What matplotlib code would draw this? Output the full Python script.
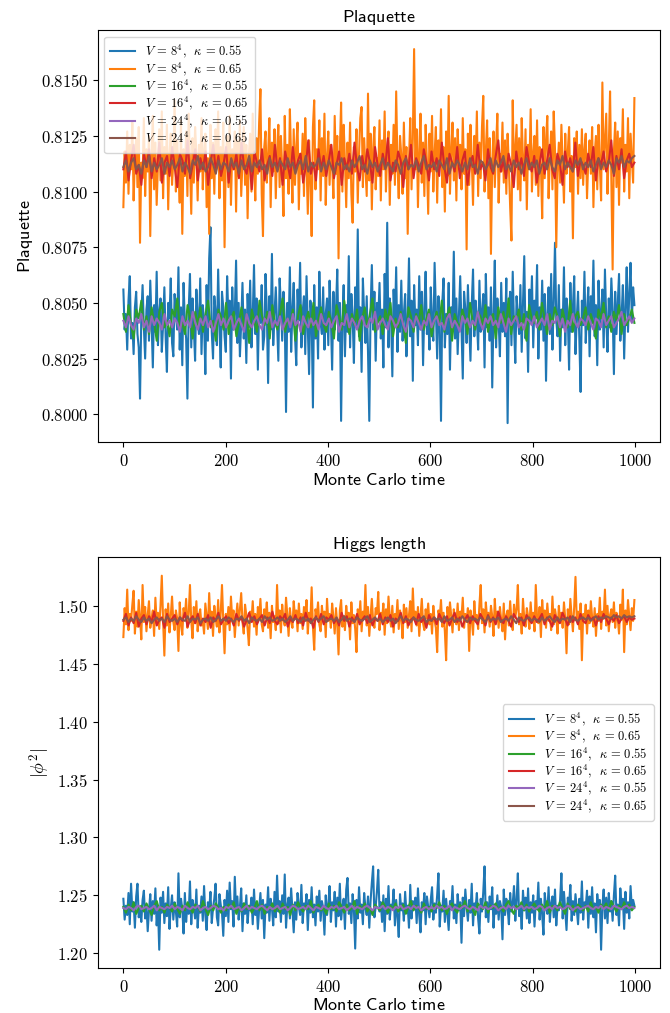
import numpy as np
import matplotlib
matplotlib.use('Agg')
import matplotlib.pyplot as plt
from matplotlib import ticker

plt.rcParams['mathtext.fontset'] = 'cm'
plt.rcParams['font.size'] = 12

# --- data ---
# plaquette: offsets from 0.8000 in units of 1e-4
plaq_base, plaq_unit = 0.8, 1e-4
plaq_v8_k055 = [
    56, 38, 45, 29, 51, 62, 34, 41, 27, 48, 55, 36, 30, 7, 44, 58, 39, 25, 47, 53,
    33, 60, 42, 21, 49, 37, 64, 31, 46, 52, 28, 40, 57, 35, 19, 50, 43, 61, 32, 26,
    54, 45, 38, 66, 29, 48, 22, 59, 41, 34, 7, 47, 63, 30, 52, 39, 24, 56, 44, 36,
    61, 27, 49, 42, 18, 58, 33, 70, 84, 37, 25, 53, 46, 31, 65, 40, 21, 55, 48, 35,
    28, 62, 43, 51, 16, 57, 38, 45, 69, 32, 50, 26, 41, 59, 34, 47, 23, 54, 39, 60,
    30, 44, 67, 36, 52, 20, 48, 41, 58, 29, 35, 63, 46, 14, 53, 38, 72, 31, 45, 57,
    40, 24, 61, 49, 33, 55, 43, 1, 50, 37, 66, 28, 47, 59, 35, 22, 56, 42, 68, 30,
    46, 53, 27, 62, 39, 18, 51, 44, 3, 58, 34, 48, 25, 64, 41, 36, 57, 29, 45, 52,
    31, 60, 43, 20, 55, 38, 47, 65, 33, 50, -3, 42, 58, 26, 49, 37, 71, 30, 54, 44,
    23, 57, 40, 83, 35, 48, 19, 61, 45, 32, 53, 28, -3, 46, 67, 38, 55, 24, 50, 42,
    59, 34, 47, 21, 63, 39, 86, 30, 52, 44, 17, 56, 41, 66, 28, 49, 37, 60, 33, 45,
    54, 26, 43, 70, 35, 51, 15, 58, 40, 47, 31, 62, 38, 55, 22, 48, 64, 36, 44, 29,
    57, 42, 33, 68, 46, 25, 53, 39, -3, 50, 61, 30, 45, 36, 59, 20, 48, 41, 73, 34,
    52, 27, 44, 62, 38, 16, 55, 47, 32, 58, 40, 24, 49, 65, 35, 51, 43, 29, 60, 37,
    46, 54, 21, 63, 39, 48, 33, 57, 12, 45, 69, 30, 52, 42, 26, 59, 37, 50, 35, 61,
    -4, 47, 55, 31, 64, 40, 23, 53, 44, 36, 58, 28, 49, 71, 34, 46, 19, 56, 41, 62,
    30, 51, 43, 67, 25, 48, 38, 60, 33, 54, 15, 45, 57, 36, 63, 29, 50, 77, 42, 35,
    58, 24, 47, 39, 66, 31, 52, 44, 20, 59, 37, 48, 62, 27, 43, 55, 34, 10, 51, 40,
    64, 32, 46, 57, 26, 53, 41, 69, 35, 49, 22, 60, 38, 45, 56, 30, 65, 43, 28, 52,
    39, 61, 47, 18, 55, 36, 50, 63, 33, 44, 58, 25, 48, 66, 37, 54, 68, 42, 57, 49,
]
plaq_v8_k065 = [
    93, 118, 104, 127, 99, 121, 110, 131, 96, 115, 124, 102, 129, 77, 113, 106, 133, 98, 119, 109,
    125, 80, 116, 134, 101, 122, 94, 112, 128, 105, 136, 97, 120, 108, 130, 92, 117, 126, 103, 114,
    141, 100, 123, 111, 95, 132, 81, 119, 107, 127, 98, 135, 113, 90, 124, 104, 129, 117, 96, 121,
    109, 133, 101, 118, 126, 93, 115, 81, 130, 106, 122, 99, 128, 111, 136, 97, 120, 105, 131, 75,
    116, 125, 102, 134, 94, 119, 110, 127, 91, 123, 107, 132, 98, 114, 129, 103, 121, 88, 117, 126,
    100, 135, 112, 96, 124, 108, 131, 146, 99, 80, 120, 127, 104, 116, 133, 93, 122, 109, 128, 97,
    118, 130, 102, 125, 111, 89, 134, 106, 121, 99, 137, 114, 95, 128, 103, 120, 131, 92, 117, 108,
    126, 98, 133, 113, 90, 123, 105, 80, 129, 141, 101, 119, 110, 132, 96, 124, 107, 135, 94, 116,
    127, 103, 121, 112, 97, 134, 108, 125, 70, 118, 140, 100, 130, 114, 93, 122, 106, 131, 99, 86,
    120, 109, 128, 95, 117, 133, 138, 102, 124, 111, 98, 144, 105, 126, 92, 119, 129, 101, 115, 107,
    132, 96, 123, 110, 136, 100, 118, 127, 94, 121, 108, 130, 103, 145, 112, 97, 125, 116, 99, 131,
    106, 120, 81, 114, 133, 101, 124, 164, 110, 128, 93, 119, 135, 104, 122, 98, 130, 113, 90, 126,
    109, 134, 100, 117, 129, 95, 123, 111, 137, 102, 120, 91, 127, 107, 143, 99, 118, 131, 105, 124,
    96, 128, 112, 121, 101, 133, 108, 119, 74, 126, 103, 130, 115, 94, 125, 110, 136, 98, 122, 106,
    129, 143, 100, 118, 132, 97, 124, 72, 113, 127, 102, 120, 135, 95, 117, 109, 131, 104, 123, 99,
    126, 111, 93, 78, 141, 107, 119, 130, 101, 124, 96, 133, 114, 105, 128, 92, 121, 110, 137, 100,
    117, 125, 103, 132, 98, 120, 112, 88, 129, 106, 123, 134, 97, 115, 127, 101, 136, 119, 75, 109,
    122, 104, 130, 113, 95, 126, 108, 118, 129, 100, 116, 79, 124, 111, 127, 99, 121, 106, 128, 103,
    119, 126, 97, 114, 123, 108, 129, 93, 117, 125, 101, 130, 112, 96, 149, 110, 122, 135, 99, 120,
    145, 106, 65, 118, 131, 102, 127, 94, 124, 113, 137, 100, 121, 109, 133, 97, 126, 115, 104, 142,
]
plaq_v16_k055 = [
    45, 37, 49, 40, 34, 47, 43, 51, 38, 44, 36, 48, 41, 33, 46, 50, 39, 42, 35, 47,
    44, 52, 38, 41, 36, 49, 43, 34, 46, 40, 48, 37, 45, 51, 39, 42, 33, 47, 44, 38,
    50, 36, 43, 46, 35, 41, 48, 39, 45, 32, 47, 42, 37, 51, 44, 40, 46, 34, 49, 41,
    38, 45, 52, 37, 43, 40, 47, 33, 44, 49, 36, 42, 46, 39, 50, 35, 43, 48, 40, 37,
    46, 41, 34, 49, 44, 38, 51, 42, 36, 45, 40, 47, 33, 43, 48, 39, 45, 52, 37, 41,
    44, 36, 47, 42, 50, 35, 43, 39, 46, 40, 32, 48, 44, 37, 45, 41, 49, 38, 43, 47,
    35, 42, 46, 40, 51, 37, 44, 48, 33, 45, 41, 39, 47, 43, 36, 50, 42, 38, 46, 44,
    40, 49, 37, 43, 45, 34, 48, 41, 46, 39, 52, 36, 44, 42, 47, 38, 45, 33, 49, 43,
    41, 46, 38, 50, 43, 36, 45, 40, 48, 44, 35, 47, 42, 39, 51, 37, 44, 46, 40, 43,
    48, 38, 45, 41, 34, 47, 43, 50, 39, 44, 37, 46, 42, 49, 36, 45, 40, 43, 47, 41,
]
plaq_v16_k065 = [
    110, 118, 105, 114, 121, 108, 112, 103, 117, 111, 119, 106, 115, 109, 122, 104, 113, 116, 107, 120,
    111, 102, 117, 114, 108, 123, 106, 112, 119, 105, 115, 110, 118, 103, 113, 121, 109, 116, 107, 112,
    120, 104, 114, 110, 117, 106, 122, 111, 108, 115, 101, 118, 113, 109, 119, 105, 112, 116, 107, 121,
    110, 115, 103, 118, 112, 106, 120, 109, 114, 117, 104, 111, 123, 108, 113, 105, 119, 110, 116, 107,
    114, 121, 106, 112, 118, 103, 115, 110, 117, 108, 122, 111, 105, 116, 109, 119, 113, 104, 120, 112,
    107, 117, 111, 124, 105, 113, 109, 118, 114, 102, 116, 110, 121, 106, 115, 112, 108, 119, 113, 105,
    118, 110, 115, 107, 122, 111, 104, 117, 113, 109, 120, 106, 114, 118, 103, 112, 116, 108, 121, 110,
    113, 105, 119, 111, 108, 116, 123, 109, 114, 106, 117, 112, 102, 118, 110, 115, 107, 120, 113, 109,
    116, 104, 112, 119, 108, 114, 121, 110, 106, 117, 113, 103, 118, 111, 115, 109, 122, 107, 114, 112,
    108, 117, 111, 120, 105, 115, 112, 118, 109, 113, 123, 107, 116, 110, 119, 106, 114, 117, 111, 113,
]
plaq_v24_k055 = [
    42, 39, 44, 40, 38, 43, 41, 45, 39, 42, 37, 44, 40, 43, 41, 38, 45, 40, 42, 39,
    43, 41, 37, 44, 40, 42, 39, 46, 41, 38, 43, 40, 44, 39, 42, 37, 41, 45, 40, 43,
    39, 42, 44, 38, 41, 43, 40, 37, 45, 41, 39, 42, 44, 40, 38, 43, 41, 46, 39, 42,
    40, 44, 38, 41, 43, 39, 45, 40, 42, 37, 44, 41, 39, 43, 40, 42, 38, 45, 41, 40,
    43, 39, 42, 44, 37, 41, 40, 45, 39, 43, 41, 38, 42, 44, 40, 39, 43, 41, 46, 38,
    41, 43, 40, 38, 44, 42, 39, 41, 45, 40, 37, 43, 42, 39, 44, 41, 38, 42, 40, 45,
    39, 42, 44, 40, 41, 38, 43, 45, 39, 42, 40, 37, 44, 41, 43, 39, 42, 40, 46, 41,
    38, 43, 41, 44, 40, 42, 39, 45, 41, 37, 43, 40, 42, 44, 39, 41, 38, 43, 42, 40,
    44, 39, 41, 43, 40, 45, 38, 42, 41, 44, 39, 43, 37, 42, 40, 45, 41, 39, 43, 42,
    40, 44, 41, 38, 43, 42, 39, 45, 40, 42, 44, 39, 41, 43, 46, 40, 42, 44, 41, 43,
]
plaq_v24_k065 = [
    111, 114, 109, 113, 115, 110, 112, 108, 114, 111, 116, 109, 113, 110, 112, 115, 108, 113, 111, 114,
    110, 112, 115, 109, 113, 111, 108, 114, 112, 116, 110, 113, 109, 111, 115, 112, 108, 114, 110, 113,
    112, 109, 115, 111, 113, 108, 114, 110, 112, 116, 109, 113, 111, 114, 110, 112, 108, 115, 111, 113,
    109, 114, 112, 110, 115, 111, 113, 108, 112, 114, 110, 116, 109, 113, 111, 112, 115, 109, 113, 110,
    114, 111, 108, 113, 112, 115, 110, 112, 109, 114, 111, 113, 116, 110, 112, 108, 114, 111, 113, 109,
    112, 115, 110, 113, 111, 109, 114, 112, 108, 113, 115, 110, 112, 111, 114, 109, 113, 116, 110, 112,
    111, 113, 109, 114, 112, 110, 115, 108, 113, 111, 114, 112, 109, 113, 110, 115, 111, 112, 108, 114,
    113, 110, 112, 115, 109, 114, 111, 113, 116, 110, 112, 109, 114, 111, 113, 108, 112, 115, 110, 113,
    111, 114, 108, 112, 113, 110, 115, 111, 109, 114, 112, 116, 110, 113, 111, 109, 114, 112, 115, 110,
    113, 111, 114, 109, 112, 115, 110, 113, 111, 114, 112, 108, 115, 113, 116, 111, 114, 113, 115, 116,
]

# Higgs length |phi^2|: offsets from 1.200 in units of 1e-3
higgs_base, higgs_unit = 1.2, 1e-3
higgs_v8_k055 = [
    47, 29, 41, 33, 52, 25, 60, 36, 44, 22, 49, 60, 31, 38, 27, 46, 54, 30, 42, 19,
    37, 51, 28, 45, 34, 56, 24, 40, 3, 48, 35, 53, 26, 43, 32, 57, 21, 39, 50, 29,
    44, 36, 23, 69, 31, 47, 38, 17, 52, 27, 42, 34, 62, 25, 46, 40, 30, 55, 22, 41,
    35, 49, 28, 58, 33, 20, 44, 37, 53, 26, 39, 47, 60, 31, 24, 51, 42, 35, 15, 46,
    32, 54, 27, 61, 38, 45, 23, 66, 36, 49, 29, 40, 56, 19, 43, 34, 50, 26, 41, 37,
    48, 25, 55, 33, 44, 21, 38, 52, 30, 46, 13, 42, 35, 57, 28, 47, 39, 24, 53, 31,
    67, 36, 45, 27, 50, 34, 68, 22, 41, 48, 30, 56, 37, 18, 44, 29, 52, 40, 33, 59,
    26, 43, 38, 51, 20, 46, 35, 57, 31, 42, 24, 49, 36, 54, 28, 45, 39, 16, 50, 33,
    41, 58, 27, 44, 37, 53, 23, 48, 32, 60, 29, 40, 47, 21, 55, 65, 34, 43, 26, 51,
    38, 4, 46, 30, 57, 35, 42, 25, 52, 39, 33, 49, 22, 45, 61, 75, 31, 40, 54, 72,
    36, 44, 27, 50, 19, 47, 34, 58, 29, 42, 38, 55, 24, 46, 32, 14, 51, 37, 43, 28,
    53, 35, 41, 22, 59, 30, 45, 39, 48, 26, 56, 33, 18, 44, 37, 52, 25, 49, 40, 31,
    46, 57, 29, 43, 35, 50, 69, 23, 41, 36, 54, 27, 47, 33, 20, 45, 38, 58, 30, 42,
    26, 51, 37, 44, 9, 48, 32, 55, 40, 28, 46, 35, 60, 24, 43, 39, 52, 30, 17, 47,
    36, 53, 75, 31, 44, 27, 49, 38, 57, 22, 42, 34, 50, 29, 45, 40, 12, 55, 33, 47,
    39, 25, 52, 36, 43, 58, 28, 46, 69, 32, 41, 21, 54, 37, 48, 30, 56, 26, 44, 35,
    50, 23, 45, 38, 61, 29, 47, 33, 16, 52, 40, 34, 57, 27, 43, 49, 31, 55, 24, 41,
    37, 46, 69, 30, 53, 36, 20, 48, 42, 59, 28, 45, 33, 51, 38, 25, 47, 35, 62, 29,
    44, 40, 54, 22, 49, 34, 57, 31, 43, 18, 51, 37, 46, 3, 41, 55, 30, 48, 26, 52,
    36, 45, 28, 50, 67, 33, 42, 24, 56, 39, 47, 21, 53, 35, 44, 30, 58, 38, 46, 41,
]
higgs_v8_k065 = [
    273, 298, 284, 314, 279, 293, 287, 301, 313, 276, 295, 282, 305, 290, 271, 318, 286, 299, 278, 292,
    304, 281, 289, 296, 274, 307, 285, 294, 280, 300, 326, 288, 257, 297, 283, 302, 277, 291, 308, 286,
    279, 296, 289, 261, 303, 284, 275, 298, 290, 306, 281, 293, 318, 287, 272, 299, 285, 304, 278, 292,
    297, 283, 288, 276, 302, 291, 280, 311, 286, 295, 274, 300, 289, 282, 305, 277, 294, 318, 287, 259,
    293, 284, 299, 279, 308, 288, 296, 273, 290, 302, 283, 297, 311, 286, 276, 301, 292, 280, 266, 295,
    287, 304, 282, 293, 275, 299, 289, 306, 284, 278, 297, 290, 303, 281, 294, 272, 300, 286, 291, 279,
    318, 285, 296, 277, 301, 288, 283, 307, 292, 274, 298, 287, 281, 304, 290, 296, 278, 302, 285, 293,
    280, 299, 289, 305, 276, 294, 286, 316, 282, 262, 297, 291, 303, 284, 278, 300, 288, 295, 273, 306,
    287, 293, 281, 302, 290, 276, 298, 284, 258, 296, 305, 282, 291, 279, 300, 288, 294, 271, 303, 285,
    292, 280, 260, 297, 286, 304, 278, 295, 289, 318, 283, 299, 274, 291, 306, 287, 281, 298, 293, 312,
    279, 294, 288, 302, 275, 297, 285, 308, 290, 282, 300, 277, 293, 287, 305, 280, 296, 289, 272, 301,
    286, 298, 281, 292, 304, 278, 315, 288, 295, 283, 299, 274, 291, 306, 285, 279, 297, 289, 302, 284,
    293, 276, 300, 287, 281, 260, 296, 290, 305, 282, 294, 278, 253, 299, 286, 303, 291, 277, 297, 288,
    284, 302, 279, 295, 290, 307, 281, 293, 286, 298, 261, 296, 289, 275, 304, 287, 292, 280, 301, 318,
    285, 297, 277, 303, 289, 294, 282, 300, 291, 274, 306, 286, 295, 281, 299, 288, 278, 302, 271, 292,
    296, 283, 304, 287, 279, 301, 290, 297, 318, 284, 293, 276, 306, 289, 282, 298, 291, 280, 303, 286,
    294, 278, 318, 290, 285, 299, 273, 305, 288, 296, 281, 302, 287, 293, 279, 308, 284, 297, 290, 276,
    300, 286, 294, 281, 303, 289, 259, 297, 284, 306, 291, 278, 299, 325, 287, 295, 280, 302, 253, 293,
    288, 301, 276, 296, 285, 304, 290, 282, 298, 274, 293, 287, 307, 280, 295, 289, 314, 283, 300, 278,
    292, 297, 286, 303, 281, 294, 289, 276, 301, 288, 314, 260, 296, 284, 305, 291, 279, 298, 287, 305,
]
higgs_v16_k055 = [
    40, 35, 42, 37, 44, 34, 39, 41, 36, 43, 38, 33, 41, 45, 37, 40, 35, 42, 39, 36,
    43, 38, 34, 41, 37, 44, 39, 35, 42, 40, 36, 45, 38, 33, 41, 37, 43, 39, 35, 40,
    37, 42, 39, 44, 34, 40, 36, 43, 38, 41, 35, 39, 45, 37, 42, 34, 40, 38, 43, 36,
    41, 35, 43, 38, 40, 33, 42, 37, 44, 39, 36, 41, 38, 45, 35, 40, 42, 37, 39, 34,
    43, 38, 41, 36, 44, 40, 35, 42, 37, 39, 45, 34, 41, 38, 43, 36, 40, 33, 42, 39,
    37, 44, 40, 35, 41, 38, 43, 36, 39, 42, 34, 40, 45, 37, 41, 39, 35, 43, 38, 40,
    36, 42, 39, 44, 37, 41, 34, 40, 43, 38, 35, 42, 39, 45, 36, 41, 38, 33, 43, 40,
    38, 44, 35, 41, 39, 43, 37, 40, 36, 42, 45, 38, 34, 41, 39, 44, 37, 42, 36, 40,
    43, 39, 36, 42, 38, 45, 35, 41, 40, 37, 44, 39, 34, 43, 38, 41, 36, 42, 40, 37,
    41, 36, 44, 38, 40, 35, 42, 39, 43, 37, 45, 40, 36, 41, 38, 44, 39, 42, 37, 40,
]
higgs_v16_k065 = [
    287, 293, 283, 290, 285, 294, 282, 289, 292, 284, 291, 286, 295, 283, 288, 290, 281, 293, 286, 289,
    292, 284, 290, 287, 294, 282, 288, 291, 285, 293, 283, 289, 286, 292, 281, 290, 287, 294, 284, 288,
    291, 285, 289, 283, 293, 287, 290, 282, 288, 294, 286, 291, 284, 289, 292, 283, 290, 285, 295, 287,
    284, 291, 288, 293, 282, 289, 286, 292, 285, 290, 283, 294, 287, 289, 281, 291, 286, 293, 284, 290,
    288, 292, 285, 289, 283, 294, 287, 291, 282, 290, 286, 293, 284, 288, 291, 285, 292, 283, 289, 287,
    293, 284, 290, 286, 292, 282, 289, 287, 294, 285, 291, 283, 288, 290, 284, 293, 286, 289, 281, 292,
    287, 290, 284, 293, 288, 285, 291, 283, 289, 294, 286, 290, 282, 288, 292, 285, 291, 287, 284, 293,
    289, 283, 292, 286, 290, 284, 295, 288, 285, 291, 287, 282, 293, 289, 286, 290, 283, 292, 288, 285,
    291, 286, 289, 293, 284, 290, 287, 282, 292, 288, 285, 294, 289, 283, 291, 286, 290, 284, 293, 287,
    285, 292, 288, 290, 283, 291, 286, 293, 289, 284, 290, 287, 292, 285, 289, 291, 286, 290, 288, 289,
]
higgs_v24_k055 = [
    39, 38, 40, 39, 37, 40, 41, 38, 39, 40, 38, 39, 41, 37, 40, 39, 38, 40, 39, 41,
    38, 40, 39, 37, 41, 39, 38, 40, 39, 41, 37, 39, 40, 38, 39, 41, 40, 38, 39, 37,
    40, 39, 41, 38, 39, 40, 37, 39, 41, 38, 40, 39, 38, 40, 41, 39, 37, 40, 38, 39,
    41, 38, 39, 40, 37, 39, 41, 40, 38, 39, 40, 38, 41, 39, 37, 40, 39, 38, 41, 39,
    38, 40, 39, 41, 38, 39, 40, 37, 39, 41, 38, 40, 39, 38, 40, 41, 39, 37, 40, 39,
    39, 41, 38, 40, 39, 37, 40, 39, 41, 38, 39, 40, 38, 41, 39, 40, 37, 39, 40, 38,
    40, 38, 41, 39, 40, 38, 39, 41, 37, 40, 39, 38, 40, 41, 39, 38, 40, 39, 37, 41,
    39, 40, 38, 39, 41, 40, 37, 39, 40, 38, 41, 39, 40, 38, 39, 41, 38, 40, 39, 40,
    38, 39, 41, 40, 37, 39, 40, 38, 41, 39, 40, 38, 39, 41, 40, 37, 39, 40, 38, 39,
    40, 41, 39, 38, 40, 39, 41, 38, 40, 39, 38, 41, 40, 39, 38, 40, 41, 39, 40, 39,
]
higgs_v24_k065 = [
    288, 290, 286, 289, 287, 291, 288, 286, 290, 287, 289, 285, 288, 290, 287, 289, 286, 291, 288, 287,
    289, 286, 290, 288, 287, 291, 286, 289, 288, 290, 285, 288, 289, 287, 290, 286, 288, 291, 287, 289,
    287, 290, 288, 286, 289, 288, 291, 287, 289, 285, 290, 288, 287, 289, 286, 291, 288, 290, 287, 288,
    290, 287, 289, 286, 288, 291, 287, 289, 288, 286, 290, 287, 289, 285, 288, 290, 287, 289, 291, 286,
    288, 289, 287, 290, 286, 288, 291, 287, 289, 288, 286, 290, 288, 287, 289, 291, 286, 288, 290, 287,
    289, 286, 288, 290, 287, 289, 285, 288, 291, 287, 289, 288, 286, 290, 288, 287, 289, 291, 286, 288,
    287, 290, 288, 289, 286, 291, 287, 288, 290, 286, 289, 287, 291, 288, 286, 290, 288, 289, 287, 290,
    288, 286, 291, 287, 289, 288, 290, 286, 288, 289, 287, 291, 288, 285, 290, 288, 287, 289, 290, 287,
    289, 288, 286, 290, 287, 289, 291, 288, 286, 290, 287, 289, 288, 290, 286, 291, 288, 287, 289, 290,
    288, 290, 287, 289, 291, 288, 290, 289, 291, 290, 289, 292, 290, 291, 289, 292, 290, 291, 290, 291,
]

labels = [r'$V\,=\,8^4,\;\;\kappa\,=\,0.55$', r'$V\,=\,8^4,\;\;\kappa\,=\,0.65$',
          r'$V\,=\,16^4,\;\;\kappa\,=\,0.55$', r'$V\,=\,16^4,\;\;\kappa\,=\,0.65$',
          r'$V\,=\,24^4,\;\;\kappa\,=\,0.55$', r'$V\,=\,24^4,\;\;\kappa\,=\,0.65$']

plaq_series = [plaq_v8_k055, plaq_v8_k065, plaq_v16_k055,
               plaq_v16_k065, plaq_v24_k055, plaq_v24_k065]
higgs_series = [higgs_v8_k055, higgs_v8_k065, higgs_v16_k055,
                higgs_v16_k065, higgs_v24_k055, higgs_v24_k065]


def mc_time(vals):
    # samples spread over the 1000 Monte Carlo steps
    return np.linspace(0, 999, len(vals))


fig, (ax1, ax2) = plt.subplots(2, 1, figsize=(6.7, 10.13), dpi=100)
fig.subplots_adjust(left=0.146, right=0.985, top=0.970, bottom=0.044, hspace=0.28)

for vals, lab in zip(plaq_series, labels):
    ax1.plot(mc_time(vals), plaq_base + np.array(vals) * plaq_unit, lw=1.5, label=lab)
for vals, lab in zip(higgs_series, labels):
    ax2.plot(mc_time(vals), higgs_base + np.array(vals) * higgs_unit, lw=1.5, label=lab)

sans = 13
leg_kw = dict(fontsize=9, labelspacing=0.0, borderpad=0.5)

ax1.set_title(r'$\mathsf{Plaquette}$', fontsize=sans)
ax1.set_ylabel(r'$\mathsf{Plaquette}$', fontsize=sans)
ax1.set_xlabel(r'$\mathsf{Monte\ Carlo\ time}$', fontsize=sans, labelpad=1)
ax1.yaxis.set_major_locator(ticker.MultipleLocator(0.0025))
ax1.yaxis.set_major_formatter(ticker.FormatStrFormatter(r'$%.4f$'))
ax1.legend(loc='upper left', **leg_kw)

ax2.set_title(r'$\mathsf{Higgs\ length}$', fontsize=sans)
ax2.set_ylabel(r'$|\phi^2|$', fontsize=sans)
ax2.set_xlabel(r'$\mathsf{Monte\ Carlo\ time}$', fontsize=sans, labelpad=0)
ax2.yaxis.set_major_locator(ticker.MultipleLocator(0.05))
ax2.yaxis.set_major_formatter(ticker.FormatStrFormatter(r'$%.2f$'))
ax2.legend(loc='center right', **leg_kw)

for ax in (ax1, ax2):
    ax.xaxis.set_major_locator(ticker.MultipleLocator(200))
    ax.xaxis.set_major_formatter(ticker.FormatStrFormatter(r'$%d$'))

fig.savefig('out.png', dpi=100)
